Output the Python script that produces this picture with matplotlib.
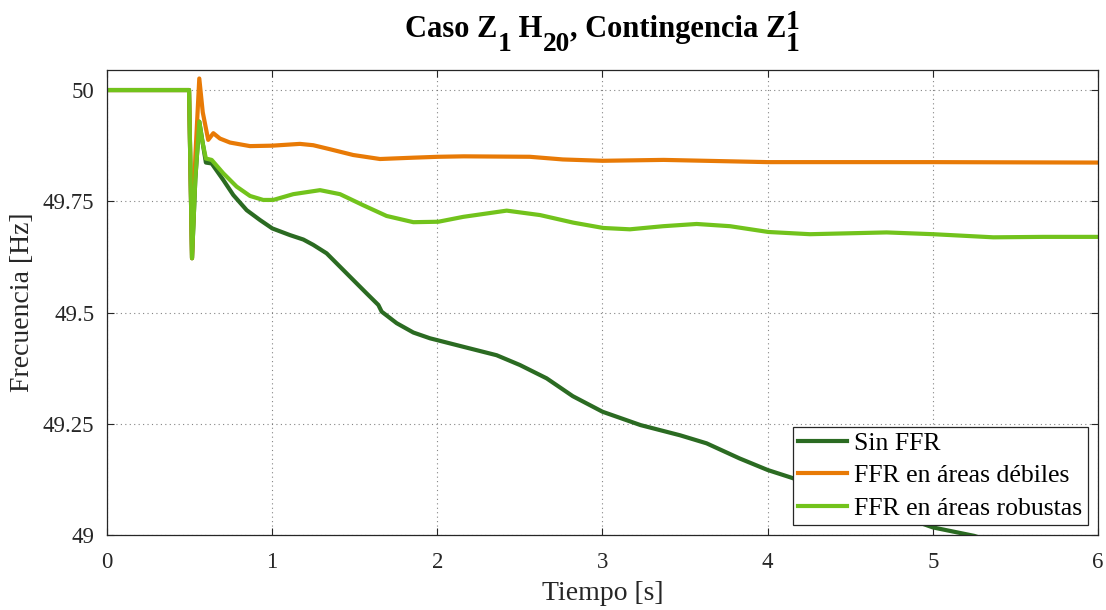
import matplotlib
matplotlib.use("Agg")
import matplotlib.pyplot as plt

# Frequency response after the contingency (time in s, frequency in Hz)
t_sin = [0, 0.497, 0.515, 0.535, 0.559, 0.58, 0.599, 0.634, 0.704, 0.765, 0.846, 0.926,
         1.001, 1.108, 1.189, 1.249, 1.330, 1.451, 1.572, 1.643, 1.663, 1.754, 1.855, 1.956,
         2.157, 2.359, 2.500, 2.662, 2.82, 3.0, 3.23, 3.47, 3.63, 3.83, 4.0, 4.15, 4.5, 4.75,
         5.0, 5.25, 5.4]
f_sin = [50, 50, 49.622, 49.80, 49.929, 49.88, 49.837, 49.835, 49.798, 49.764, 49.730, 49.708,
         49.689, 49.674, 49.664, 49.652, 49.633, 49.588, 49.543, 49.517, 49.502, 49.476, 49.455,
         49.442, 49.423, 49.404, 49.382, 49.352, 49.312, 49.277, 49.247, 49.224, 49.206, 49.172,
         49.146, 49.128, 49.08, 49.05, 49.017, 48.998, 48.98]

t_deb = [0, 0.497, 0.515, 0.535, 0.559, 0.58, 0.613, 0.644, 0.684, 0.745, 0.866, 1.001,
         1.168, 1.249, 1.350, 1.491, 1.653, 1.855, 2.006, 2.16, 2.56, 2.76, 3.0, 3.37, 4.0,
         5.0, 6.0]
f_deb = [50, 50, 49.622, 49.85, 50.026, 49.95, 49.888, 49.903, 49.891, 49.882, 49.874, 49.875,
         49.879, 49.876, 49.867, 49.854, 49.845, 49.848, 49.850, 49.851, 49.850, 49.844, 49.841,
         49.843, 49.838, 49.838, 49.837]

t_rob = [0, 0.497, 0.515, 0.535, 0.559, 0.58, 0.599, 0.634, 0.704, 0.785, 0.866, 0.946,
         1.007, 1.128, 1.290, 1.411, 1.552, 1.693, 1.855, 2.006, 2.157, 2.420, 2.622, 2.823,
         3.005, 3.166, 3.368, 3.570, 3.772, 4.004, 4.256, 4.720, 5.003, 5.366, 5.669, 6.0]
f_rob = [50, 50, 49.622, 49.80, 49.929, 49.88, 49.846, 49.843, 49.813, 49.783, 49.762, 49.753,
         49.753, 49.766, 49.775, 49.766, 49.741, 49.717, 49.703, 49.704, 49.715, 49.729, 49.719,
         49.702, 49.690, 49.687, 49.694, 49.699, 49.694, 49.681, 49.676, 49.680, 49.676, 49.669,
         49.670, 49.670]

labels = ["Sin FFR", "FFR en áreas débiles", "FFR en áreas robustas"]
colors = ["#2b6b22", "#e87a06", "#72c31c"]

x_ticks = [0, 1, 2, 3, 4, 5, 6]
y_ticks = [49, 49.25, 49.5, 49.75, 50]
y_ticklabels = ["49", "49.25", "49.5", "49.75", "50"]

# Title pieces: (text, baseline shift in px, relative size)
title_parts = [("Caso Z", 0, 1.0), ("1", -14, 0.9), (" H", 0, 1.0), ("20", -14, 0.9),
               (", Contingencia Z", 0, 1.0)]
title_stack = [("1", 8, 0.9), ("1", -14, 0.9)]

plt.rcParams["font.family"] = ["Liberation Serif", "DejaVu Serif"]

fig = plt.figure(figsize=(11.06, 6.10), dpi=100)
ax = fig.add_axes([0.0967, 0.123, 0.8961, 0.7622])

for t, f, lab, c in [(t_sin, f_sin, labels[0], colors[0]),
                     (t_deb, f_deb, labels[1], colors[1]),
                     (t_rob, f_rob, labels[2], colors[2])]:
    ax.plot(t, f, color=c, lw=3.0, label=lab, solid_joinstyle="round")

ax.set_xlim(0, 6)
ax.set_ylim(49, 50.045)
ax.set_xticks(x_ticks)
ax.set_yticks(y_ticks)
ax.set_yticklabels(y_ticklabels)
ax.tick_params(direction="in", length=5, width=0.8, labelsize=16.5, colors="#262626",
               top=True, right=True, pad=9)
ax.tick_params(axis="x", pad=12)
for s in ax.spines.values():
    s.set_color("#262626")
    s.set_linewidth(0.9)
ax.grid(True, linestyle=(0, (1, 3)), color="#666666", linewidth=0.8, alpha=0.8)

ax.set_xlabel("Tiempo [s]", fontsize=20, color="#262626", labelpad=6)
ax.set_ylabel("Frecuencia [Hz]", fontsize=20, color="#262626", labelpad=6)

leg = ax.legend(loc="lower right", fontsize=18.5, frameon=True, fancybox=False,
                edgecolor="#262626", framealpha=1, borderpad=0.2, handlelength=1.9,
                handletextpad=0.3, labelspacing=0.36, borderaxespad=0.4)
leg.get_frame().set_linewidth(0.9)

# Title with near full-size sub/superscripts, laid out piece by piece
fig.canvas.draw()
renderer = fig.canvas.get_renderer()
W, H = fig.bbox.width, fig.bbox.height
title_size = 22
base_y = H - 37


def _font(scale):
    return dict(fontsize=title_size * scale, fontweight="bold", color="black")


def _width(s, scale):
    tmp = fig.text(0, 0, s, **_font(scale))
    w = tmp.get_window_extent(renderer).width
    tmp.remove()
    return w


widths = [_width(s, k) for s, _, k in title_parts]
stack_w = max(_width(s, k) for s, _, k in title_stack)
total = sum(widths) + stack_w
ax_bb = ax.get_window_extent(renderer)
x = (ax_bb.x0 + ax_bb.x1) / 2 - total / 2
for (s, dy, k), w in zip(title_parts, widths):
    fig.text(x / W, (base_y + dy) / H, s, ha="left", va="baseline", **_font(k))
    x += w
for s, dy, k in title_stack:
    fig.text(x / W, (base_y + dy) / H, s, ha="left", va="baseline", **_font(k))

fig.savefig("out.png", dpi=100)
